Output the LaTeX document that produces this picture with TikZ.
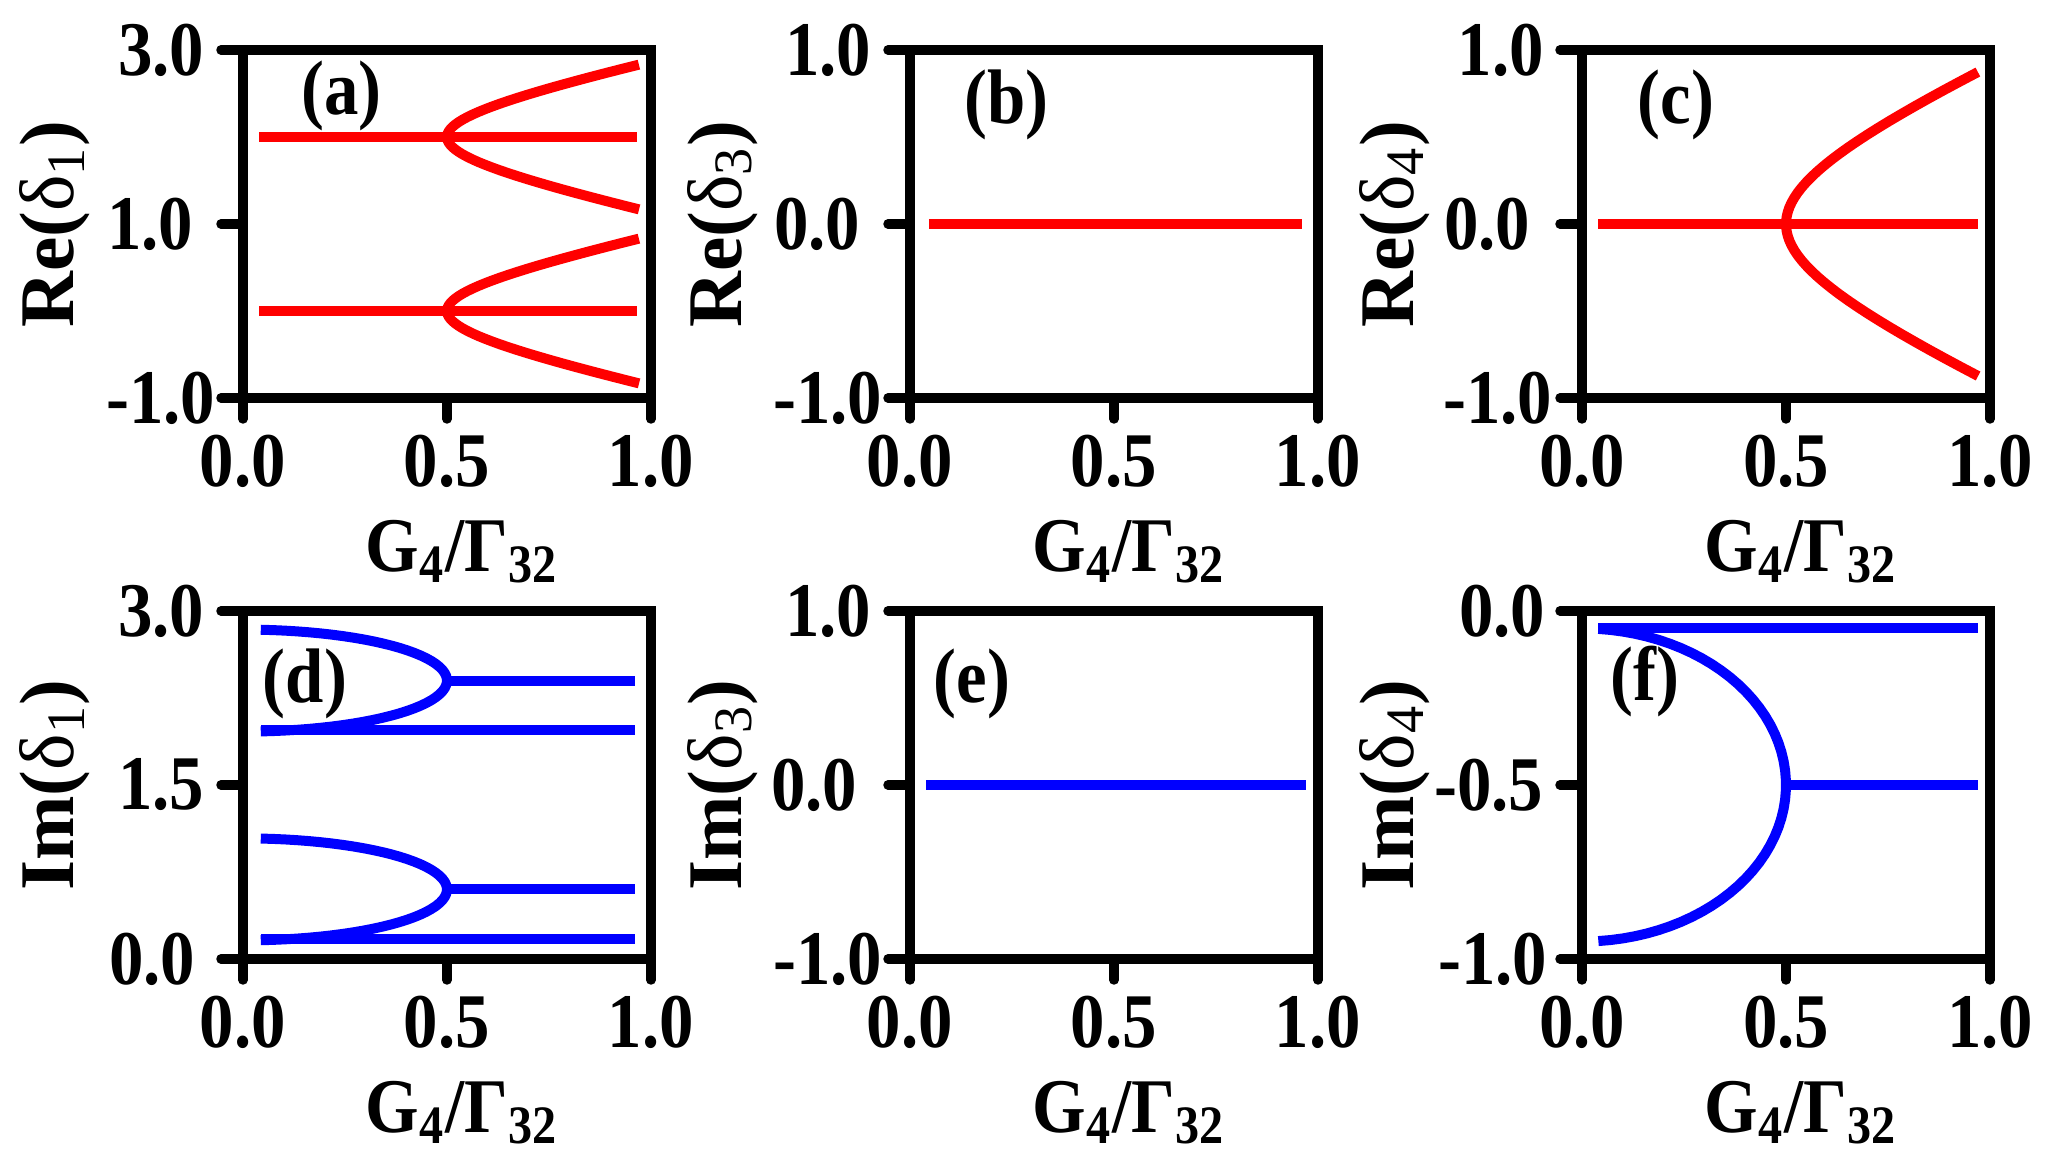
\documentclass[tikz,border=0pt]{standalone}
\usepackage{fontspec}
\setmainfont{Liberation Serif}
\newfontfamily\narrowfont[FakeStretch=0.89]{Liberation Serif}

\begin{document}
\begin{tikzpicture}[
    every node/.style={font=\fontsize{22}{26}\selectfont\narrowfont\bfseries, inner sep=0pt},
    frame/.style={line width=0.95mm},
    tick/.style={line width=0.95mm, line cap=round},
    redline/.style={draw=red, line width=1mm},
    blueline/.style={draw=blue, line width=1mm},
    ynum/.style={anchor=east},
    xnum/.style={anchor=north},
    xlab/.style={anchor=base},
    ylab/.style={rotate=90, anchor=base, font=\fontsize{22}{26}\selectfont\rmfamily\bfseries},
    tag/.style={anchor=center}
]
\useasboundingbox (0,0) rectangle (20.57,11.69);

% (a)
\begin{scope}[shift={(2.43,7.71)}, x=4.08cm, y=0.87cm, yshift=0.87cm]
\foreach \yv/\lab/\off [count=\i] in {3/3.0/0.38, 1/1.0/0.49, -1/-1.0/0.27} {
    \draw[tick] (0,\yv) -- ++(-0.22cm,0);
    \node[ynum] (a-y\i) at ([xshift=-\off cm]0,\yv) {\lab};
}
\foreach \xv/\lab [count=\i] in {0/0.0, 0.5/0.5, 1/1.0} {
    \draw[tick] (\xv,-1) -- ++(0,-0.21cm);
    \node[xnum] (a-x\i) at ([yshift=-0.36cm]\xv,-1) {\lab};
}
\draw[frame] (0,-1) rectangle (1,3);
\draw[redline] (0.04,2) -- (0.965,2);
\draw[redline] (0.04,0) -- (0.965,0);
\draw[redline] plot[domain=-1.2826:1.2826, samples=50, variable=\h] ({0.5*cosh(\h)}, {2+0.5*sinh(\h)});
\draw[redline] plot[domain=-1.2826:1.2826, samples=50, variable=\h] ({0.5*cosh(\h)}, {0.5*sinh(\h)});
\node[tag] (a-tag) at ([xshift=0.985cm, yshift=-0.457cm]0,3) {(a)};
\node[xlab] (a-xl) at ([xshift=0.15cm, yshift=-1.74cm]0.5,-1) {G\textsubscript{4}/Γ\textsubscript{32}};
\node[ylab] (a-yl) at ([xshift=-1.69cm]0,1) {Re(\textmd{δ\textsubscript{1}})};
\end{scope}

% (b)
\begin{scope}[shift={(9.10,7.71)}, x=4.08cm, y=1.74cm, yshift=1.74cm]
\foreach \yv/\lab/\off [count=\i] in {1/1.0/0.38, 0/0.0/0.49, -1/-1.0/0.27} {
    \draw[tick] (0,\yv) -- ++(-0.22cm,0);
    \node[ynum] (b-y\i) at ([xshift=-\off cm]0,\yv) {\lab};
}
\foreach \xv/\lab [count=\i] in {0/0.0, 0.5/0.5, 1/1.0} {
    \draw[tick] (\xv,-1) -- ++(0,-0.21cm);
    \node[xnum] (b-x\i) at ([yshift=-0.36cm]\xv,-1) {\lab};
}
\draw[frame] (0,-1) rectangle (1,1);
\draw[redline] (0.046,0) -- (0.96,0);
\node[tag] (b-tag) at ([xshift=0.967cm, yshift=-0.55cm]0,1) {(b)};
\node[xlab] (b-xl) at ([xshift=0.15cm, yshift=-1.74cm]0.5,-1) {G\textsubscript{4}/Γ\textsubscript{32}};
\node[ylab] (b-yl) at ([xshift=-1.69cm]0,0) {Re(\textmd{δ\textsubscript{3}})};
\end{scope}

% (c)
\begin{scope}[shift={(15.82,7.71)}, x=4.08cm, y=1.74cm, yshift=1.74cm]
\foreach \yv/\lab/\off [count=\i] in {1/1.0/0.375, 0/0.0/0.51, -1/-1.0/0.29} {
    \draw[tick] (0,\yv) -- ++(-0.22cm,0);
    \node[ynum] (c-y\i) at ([xshift=-\off cm]0,\yv) {\lab};
}
\foreach \xv/\lab [count=\i] in {0/0.0, 0.5/0.5, 1/1.0} {
    \draw[tick] (\xv,-1) -- ++(0,-0.21cm);
    \node[xnum] (c-x\i) at ([yshift=-0.36cm]\xv,-1) {\lab};
}
\draw[frame] (0,-1) rectangle (1,1);
\draw[redline] (0.04,0) -- (0.97,0);
\draw[redline] plot[domain=-1.2826:1.2826, samples=50, variable=\h] ({0.5*cosh(\h)}, {0.525*sinh(\h)});
\node[tag] (c-tag) at ([xshift=0.94cm, yshift=-0.55cm]0,1) {(c)};
\node[xlab] (c-xl) at ([xshift=0.15cm, yshift=-1.74cm]0.5,-1) {G\textsubscript{4}/Γ\textsubscript{32}};
\node[ylab] (c-yl) at ([xshift=-1.69cm]0,0) {Re(\textmd{δ\textsubscript{4}})};
\end{scope}

% (d)
\begin{scope}[shift={(2.43,2.10)}, x=4.08cm, y=1.16cm]
\foreach \yv/\lab/\off [count=\i] in {3/3.0/0.38, 1.5/1.5/0.38, 0/0.0/0.47} {
    \draw[tick] (0,\yv) -- ++(-0.22cm,0);
    \node[ynum] (d-y\i) at ([xshift=-\off cm]0,\yv) {\lab};
}
\foreach \xv/\lab [count=\i] in {0/0.0, 0.5/0.5, 1/1.0} {
    \draw[tick] (\xv,0) -- ++(0,-0.21cm);
    \node[xnum] (d-x\i) at ([yshift=-0.36cm]\xv,0) {\lab};
}
\draw[frame] (0,0) rectangle (1,3);
\draw[blueline] (0.045,1.97) -- (0.96,1.97);
\draw[blueline] plot[domain=-85:85, samples=50, variable=\a] ({0.5*cos(\a)}, {2.4+0.44*sin(\a)});
\draw[blueline] (0.5,2.4) -- (0.96,2.4);
\draw[blueline] (0.045,0.17) -- (0.96,0.17);
\draw[blueline] plot[domain=-85:85, samples=50, variable=\a] ({0.5*cos(\a)}, {0.6+0.44*sin(\a)});
\draw[blueline] (0.5,0.6) -- (0.96,0.6);
\node[tag] (d-tag) at ([xshift=0.62cm, yshift=-0.728cm]0,3) {(d)};
\node[xlab] (d-xl) at ([xshift=0.15cm, yshift=-1.74cm]0.5,0) {G\textsubscript{4}/Γ\textsubscript{32}};
\node[ylab] (d-yl) at ([xshift=-1.69cm]0,1.5) {Im(\textmd{δ\textsubscript{1}})};
\end{scope}

% (e)
\begin{scope}[shift={(9.10,2.10)}, x=4.08cm, y=1.74cm, yshift=1.74cm]
\foreach \yv/\lab/\off [count=\i] in {1/1.0/0.38, 0/0.0/0.52, -1/-1.0/0.27} {
    \draw[tick] (0,\yv) -- ++(-0.22cm,0);
    \node[ynum] (e-y\i) at ([xshift=-\off cm]0,\yv) {\lab};
}
\foreach \xv/\lab [count=\i] in {0/0.0, 0.5/0.5, 1/1.0} {
    \draw[tick] (\xv,-1) -- ++(0,-0.21cm);
    \node[xnum] (e-x\i) at ([yshift=-0.36cm]\xv,-1) {\lab};
}
\draw[frame] (0,-1) rectangle (1,1);
\draw[blueline] (0.04,0) -- (0.97,0);
\node[tag] (e-tag) at ([xshift=0.62cm, yshift=-0.728cm]0,1) {(e)};
\node[xlab] (e-xl) at ([xshift=0.15cm, yshift=-1.74cm]0.5,-1) {G\textsubscript{4}/Γ\textsubscript{32}};
\node[ylab] (e-yl) at ([xshift=-1.69cm]0,0) {Im(\textmd{δ\textsubscript{3}})};
\end{scope}

% (f)
\begin{scope}[shift={(15.82,2.10)}, x=4.08cm, y=3.48cm, yshift=3.48cm]
\foreach \yv/\lab/\off [count=\i] in {0/0.0/0.36, -0.5/-0.5/0.38, -1/-1.0/0.34} {
    \draw[tick] (0,\yv) -- ++(-0.22cm,0);
    \node[ynum] (f-y\i) at ([xshift=-\off cm]0,\yv) {\lab};
}
\foreach \xv/\lab [count=\i] in {0/0.0, 0.5/0.5, 1/1.0} {
    \draw[tick] (\xv,-1) -- ++(0,-0.21cm);
    \node[xnum] (f-x\i) at ([yshift=-0.36cm]\xv,-1) {\lab};
}
\draw[frame] (0,-1) rectangle (1,0);
\draw[blueline] (0.04,-0.05) -- (0.97,-0.05);
\draw[blueline] plot[domain=-85.4:85.4, samples=50, variable=\a] ({0.5*cos(\a)}, {-0.5+0.45*sin(\a)});
\draw[blueline] (0.5,-0.5) -- (0.97,-0.5);
\node[tag] (f-tag) at ([xshift=0.63cm, yshift=-0.71cm]0,0) {(f)};
\node[xlab] (f-xl) at ([xshift=0.15cm, yshift=-1.74cm]0.5,-1) {G\textsubscript{4}/Γ\textsubscript{32}};
\node[ylab] (f-yl) at ([xshift=-1.69cm]0,-0.5) {Im(\textmd{δ\textsubscript{4}})};
\end{scope}

\end{tikzpicture}
\end{document}
